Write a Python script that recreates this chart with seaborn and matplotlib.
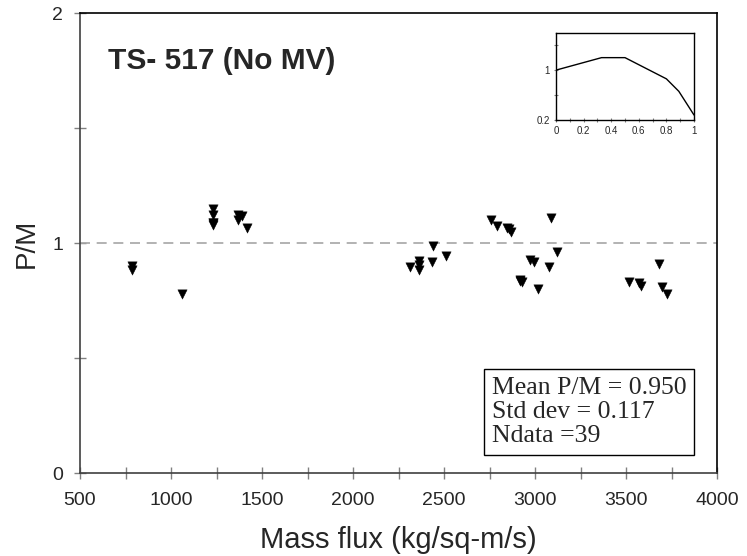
import numpy as np
import pandas as pd
import seaborn as sns
import matplotlib.pyplot as plt
from matplotlib.ticker import MultipleLocator

# Data
mass_flux = [784, 784, 1059, 1231, 1231, 1231, 1231, 1231, 1370, 1388, 1370, 1419,
             2313, 2364, 2364, 2364, 2432, 2441, 2509,
             2756, 2789, 2844, 2859, 2866, 3090, 2918, 2927, 2918,
             2973, 2996, 3014, 3077, 3119, 3518, 3573, 3580, 3681, 3700, 3727]
p_over_m = [0.90, 0.883, 0.78, 1.146, 1.12, 1.088, 1.08, 1.088, 1.12, 1.117, 1.10, 1.067,
            0.894, 0.92, 0.905, 0.883, 0.919, 0.988, 0.943,
            1.10, 1.074, 1.064, 1.06, 1.049, 1.11, 0.839, 0.832, 0.836,
            0.926, 0.919, 0.80, 0.897, 0.961, 0.832, 0.825, 0.814, 0.909, 0.81, 0.777]

# inset curve
inset_x = [0.0, 0.33, 0.5, 0.8, 0.89, 1.0]
inset_y = [1.0, 1.2, 1.2, 0.86, 0.66, 0.28]

stats_lines = ["Mean P/M = 0.950", "Std dev = 0.117", "Ndata =39"]

df = pd.DataFrame({"Mass flux": mass_flux, "P/M": p_over_m})

sns.set_style("white")
plt.rcParams['font.family'] = ['Liberation Sans', 'DejaVu Sans']

fig = plt.figure(figsize=(7.47, 5.56), dpi=100)
ax = fig.add_axes([80 / 747, 83 / 556, 637 / 747, 460 / 556])

sns.scatterplot(data=df, x="Mass flux", y="P/M", marker="v", color="black",
                s=45, edgecolor="black", linewidth=0.3, ax=ax, zorder=3)

ax.axhline(1, color="#a6a6a6", linestyle=(0, (6, 4)), linewidth=1.2, zorder=1)

ax.set_xlim(500, 4000)
ax.set_ylim(0, 2)
ax.xaxis.set_major_locator(MultipleLocator(500))
ax.xaxis.set_minor_locator(MultipleLocator(250))
ax.yaxis.set_major_locator(MultipleLocator(1))
ax.yaxis.set_minor_locator(MultipleLocator(0.5))
ax.tick_params(which="both", direction="inout", color="#808080", length=8, width=1,
               bottom=True, left=True, labelsize=14, pad=8)
ax.tick_params(axis="x", pad=10)
ax.set_xlabel("Mass flux (kg/sq-m/s)", fontsize=21, labelpad=12)
ax.set_ylabel("P/M", fontsize=20, labelpad=9)

for side in ["top", "right"]:
    ax.spines[side].set_color("black")
for side in ["left", "bottom"]:
    ax.spines[side].set_color("#404040")
for sp in ax.spines.values():
    sp.set_linewidth(1.2)

ax.text(0.044, 0.895, "TS- 517 (No MV)", transform=ax.transAxes, fontsize=21.5,
        fontweight="bold", va="center", ha="left")

ax.text(0.647, 0.133, "\n".join(stats_lines), transform=ax.transAxes, fontsize=18.5,
        family="Liberation Serif", ha="left", va="center", linespacing=1.12,
        bbox=dict(boxstyle="square,pad=0.3", facecolor="white", edgecolor="black", lw=1))

# inset
ins = fig.add_axes([556 / 747, (556 - 120) / 556, 138 / 747, 87.3 / 556])
sns.lineplot(x=inset_x, y=inset_y, color="black", linewidth=1, ax=ins)
ins.set_xlim(0, 1)
ins.set_ylim(0.2, 1.6)
ins.set_xticks([0, 0.2, 0.4, 0.6, 0.8, 1.0])
ins.set_xticklabels(["0", "0.2", "0.4", "0.6", "0.8", "1"])
ins.xaxis.set_minor_locator(MultipleLocator(0.1))
ins.set_yticks([0.2, 0.6, 1.0, 1.4])
ins.set_yticklabels(["0.2", "", "1", ""])
ins.tick_params(which="both", direction="inout", color="#808080", length=3, width=0.8,
                bottom=True, left=True, labelsize=7, pad=3)
for sp in ins.spines.values():
    sp.set_color("black")
    sp.set_linewidth(1)

fig.savefig("out.png", dpi=100)
